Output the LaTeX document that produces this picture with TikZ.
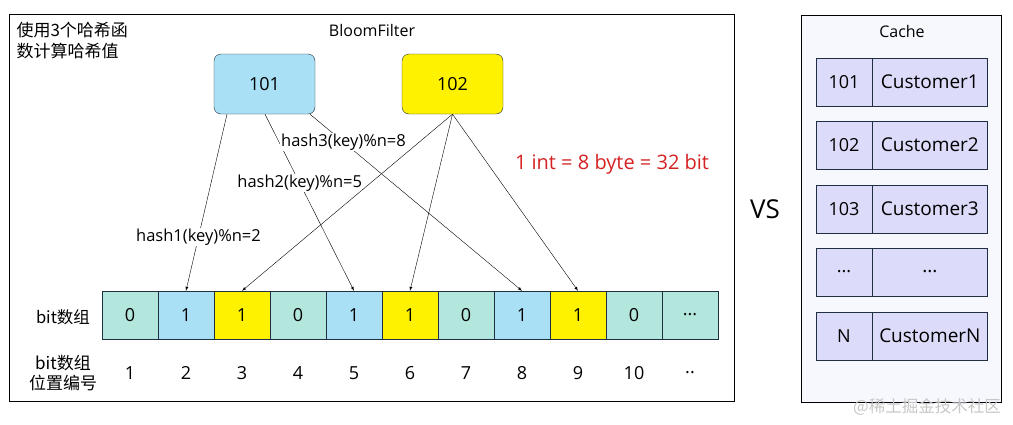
\documentclass[tikz,border=0pt]{standalone}
\usepackage{fontspec}
\setmainfont{Open Sans}
\newfontfamily\cjk{Noto Sans CJK SC}
\usepackage{tikz}
\definecolor{keyblue}{HTML}{A9E0F6}
\definecolor{zeroteal}{HTML}{B3E6DC}
\definecolor{cacheback}{HTML}{F6F8FD}
\definecolor{rowlilac}{HTML}{DCDCFA}
\definecolor{edgeblue}{HTML}{1F2F3F}
\definecolor{noteRed}{HTML}{D42222}

\begin{document}
\begin{tikzpicture}[x=1pt,y=-1pt,
font=\fontsize{18}{20}\selectfont,
key/.style={
draw=edgeblue,
minimum width=101pt,
minimum height=60pt,
rounded corners=7pt},
cell/.style={
draw=edgeblue,
minimum width=56pt,
minimum height=48pt,
inner sep=0pt},
c0/.style={cell,fill=zeroteal},
cb/.style={cell,fill=keyblue},
cy/.style={cell,fill=yellow},
idx/.style={anchor=center},
hlab/.style={fill=white,inner sep=1pt,font=\fontsize{16.5}{18}\selectfont},
title/.style={font=\fontsize{16}{18}\selectfont},
kc/.style={draw=edgeblue,fill=rowlilac,minimum width=56pt,minimum height=48pt,inner sep=0pt},
vc/.style={kc,minimum width=115pt,font=\fontsize{19}{20}\selectfont},
]
\useasboundingbox(0,0)rectangle(1013,424);
%BloomFilter
\node[draw,minimum width=725pt,minimum height=387pt,anchor=north west](bf)at(9,14){};
\node[title]at(372,30){BloomFilter};
\node[align=left,anchor=north west,font=\cjk\fontsize{17}{21}\selectfont](note)at(13,19){使用3个哈希函\\数计算哈希值};
%%keys
\node[key,fill=keyblue](k1)at(264.5,84){101};
\node[key,fill=yellow](k2)at(452.5,84){102};
\node[text=noteRed,font=\fontsize{20}{22}\selectfont](size)at(612,164){1 int = 8 byte = 32 bit};
%%bit array
\node[font=\cjk\fontsize{16.5}{20}\selectfont](bitl)at(63,317){bit数组};
\node[c0](c1)at(130,315){0};
\node[cb](c2)at(186,315){1};
\node[cy](c3)at(242,315){1};
\node[c0](c4)at(298,315){0};
\node[cb](c5)at(354,315){1};
\node[cy](c6)at(410,315){1};
\node[c0](c7)at(466,315){0};
\node[cb](c8)at(522,315){1};
\node[cy](c9)at(578,315){1};
\node[c0](c10)at(634,315){0};
\node[c0](c11)at(690,315){...};
%%positions
\node[align=center,font=\cjk\fontsize{17}{20}\selectfont](posl)at(63,373){bit数组\\位置编号};
\node[idx](i1)at(130,373){1};
\node[idx](i2)at(186,373){2};
\node[idx](i3)at(242,373){3};
\node[idx](i4)at(298,373){4};
\node[idx](i5)at(354,373){5};
\node[idx](i6)at(410,373){6};
\node[idx](i7)at(466,373){7};
\node[idx](i8)at(522,373){8};
\node[idx](i9)at(578,373){9};
\node[idx](i10)at(634,373){10};
\node[idx](i11)at(690,373){..};
%%hashes
\draw[-{latex}]([xshift=-37.5pt]k1.south)--(c2.north)node[hlab,pos=0.695]{hash1(key)\%n=2};
\draw[-{latex}]([xshift=0.5pt]k1.south)--(c5.north)node[hlab,pos=0.39]{hash2(key)\%n=5};
\draw[-{latex}]([xshift=45.5pt]k1.south)--(c8.north)node[hlab,pos=0.158]{hash3(key)\%n=8};
\draw[-{latex}](k2.south)--(c3.north);
\draw[-{latex}](k2.south)--(c6.north);
\draw[-{latex}](k2.south)--(c9.north);
%VS
\node[font=\fontsize{26}{30}\selectfont](vs)at(765,209){VS};
%Cache
\node[draw,fill=cacheback,minimum width=200pt,minimum height=387pt,anchor=north west](cache)at(801,15){};
\node[title]at(902,31){Cache};
\node[kc](r1k)at(844,82){101};
\node[vc,anchor=west](r1v)at(r1k.east){Customer1};
\node[kc](r2k)at(844,145){102};
\node[vc,anchor=west](r2v)at(r2k.east){Customer2};
\node[kc](r3k)at(844,209){103};
\node[vc,anchor=west](r3v)at(r3k.east){Customer3};
\node[kc](r4k)at(844,272){...};
\node[vc,anchor=west](r4v)at(r4k.east){...};
\node[kc](r5k)at(844,336){N};
\node[vc,anchor=west](r5v)at(r5k.east){CustomerN};
\node[text=gray!45,font=\cjk\fontsize{16.5}{18}\selectfont](mark)at(927,407){@稀土掘金技术社区};
\end{tikzpicture}
\end{document}
